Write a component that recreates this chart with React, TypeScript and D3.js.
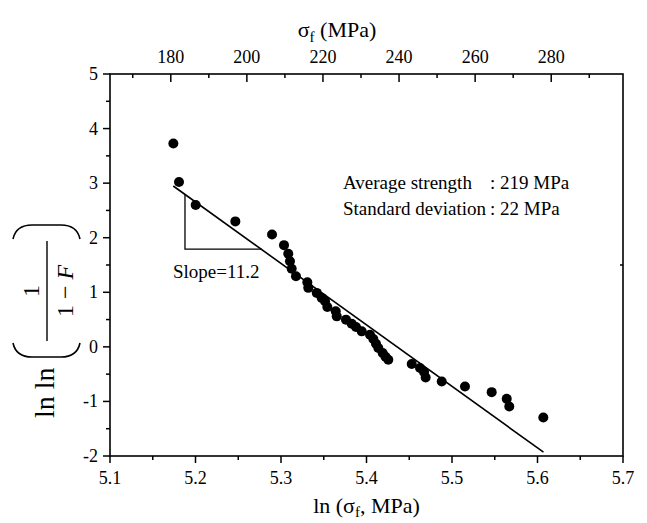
import React from 'react';
import * as d3 from 'd3';

const xTicks = [5.1, 5.2, 5.3, 5.4, 5.5, 5.6, 5.7];
const yTicks = [-2, -1, 0, 1, 2, 3, 4, 5];
const topTicks = [180, 200, 220, 240, 260, 280];

const lnSigma = [
  5.1741, 5.1807, 5.2002, 5.2466, 5.2895, 5.3035, 5.3085, 5.3105, 5.3125, 5.3175,
  5.3308, 5.3319, 5.3418, 5.3476, 5.3515, 5.3542, 5.364, 5.3652, 5.376, 5.3827,
  5.3877, 5.3944, 5.4041, 5.408, 5.4111, 5.4138, 5.4189, 5.4222, 5.4255, 5.4529,
  5.4626, 5.4673, 5.4692, 5.488, 5.5152, 5.5464, 5.564, 5.567, 5.6068,
];
const lnlnF = [
  3.727, 3.021, 2.599, 2.299, 2.06, 1.864, 1.706, 1.57, 1.43, 1.294,
  1.184, 1.081, 0.989, 0.897, 0.835, 0.732, 0.651, 0.559, 0.499, 0.425,
  0.365, 0.284, 0.223, 0.144, 0.058, -0.021, -0.113, -0.181, -0.236, -0.315,
  -0.389, -0.462, -0.561, -0.635, -0.727, -0.83, -0.953, -1.094, -1.296,
];

const fitX = [5.174, 5.607];
const fitY = [2.948, -1.93];
const slopeX = [5.1877, 5.2774];
const slopeBaseY = 1.79;
const slopeLabel = 'Slope=11.2';
const statLabels = ['Average strength', 'Standard deviation'];
const statValues = [': 219 MPa', ': 22 MPa'];

const W = 647;
const H = 523;
const L = 110, R = 623, T = 74, B = 456;
const FONT = "'Liberation Serif', 'Times New Roman', serif";

export default function App() {
  const x = d3.scaleLinear().domain([5.1, 5.7]).range([L, R]);
  const y = d3.scaleLinear().domain([-2, 5]).range([B, T]);
  const xTop = d3.scaleLinear().domain([Math.exp(5.1), Math.exp(5.7)]).range([L, R]);

  const xMinor = d3.range(5.15, 5.7, 0.1);
  const yMinor = d3.range(-1.5, 5, 1);
  const topMinor = d3.range(170, 300, 20);

  const fitAt = (v: number) => fitY[0] + ((v - fitX[0]) * (fitY[1] - fitY[0])) / (fitX[1] - fitX[0]);
  const line = d3.line<[number, number]>().x(d => x(d[0])).y(d => y(d[1]));
  const tri: [number, number][] = [
    [slopeX[0], fitAt(slopeX[0])],
    [slopeX[0], slopeBaseY],
    [slopeX[1], slopeBaseY],
  ];

  return (
    <svg width={W} height={H} style={{ position: 'absolute', left: 0, top: 0, background: '#fff' }} fontFamily={FONT}>
      <rect x={0} y={0} width={W} height={H} fill="#fff" />
      {/* frame */}
      <rect x={L} y={T} width={R - L} height={B - T} fill="none" stroke="#000" strokeWidth={1.6} />
      {/* bottom axis */}
      {xTicks.map(t => (
        <g key={'xb' + t}>
          <line x1={x(t)} x2={x(t)} y1={B} y2={B + 7} stroke="#000" strokeWidth={1.5} />
          <text x={x(t)} y={B + 28} textAnchor="middle" fontSize={18}>{t.toFixed(1)}</text>
        </g>
      ))}
      {xMinor.map(t => (
        <line key={'xm' + t} x1={x(t)} x2={x(t)} y1={B} y2={B + 4} stroke="#000" strokeWidth={1.5} />
      ))}
      <text x={(L + R) / 2} y={513} textAnchor="middle" fontSize={22}>
        ln (σ<tspan fontSize={15} dy={4}>f</tspan><tspan dy={-4}>, MPa)</tspan>
      </text>
      {/* left axis */}
      {yTicks.map(t => (
        <g key={'yl' + t}>
          <line x1={L - 7} x2={L} y1={y(t)} y2={y(t)} stroke="#000" strokeWidth={1.5} />
          <text x={L - 12} y={y(t) + 6} textAnchor="end" fontSize={18}>{String(t)}</text>
        </g>
      ))}
      {yMinor.map(t => (
        <line key={'ym' + t} x1={L - 4} x2={L} y1={y(t)} y2={y(t)} stroke="#000" strokeWidth={1.5} />
      ))}
      {/* right axis small mark */}
      <line x1={R - 3} x2={R} y1={y(1.5)} y2={y(1.5)} stroke="#000" strokeWidth={1.5} />
      {/* top axis */}
      {topTicks.map(t => (
        <g key={'xt' + t}>
          <line x1={xTop(t)} x2={xTop(t)} y1={T} y2={T + 8} stroke="#000" strokeWidth={1.5} />
          <text x={xTop(t)} y={T - 11} textAnchor="middle" fontSize={18}>{String(t)}</text>
        </g>
      ))}
      {topMinor.map(t => (
        <line key={'tm' + t} x1={xTop(t)} x2={xTop(t)} y1={T} y2={T + 4} stroke="#000" strokeWidth={1.5} />
      ))}
      <text x={337} y={37} textAnchor="middle" fontSize={22}>
        σ<tspan fontSize={15} dy={5}>f</tspan><tspan dy={-5}> (MPa)</tspan>
      </text>
      {/* y title */}
      <g transform="translate(46,323) rotate(-90)">
        <text x={-95} y={8} fontSize={28}>ln ln</text>
        <path d="M -20 -33 Q -34 -30 -34 -14 L -34 15 Q -34 31 -20 34" fill="none" stroke="#000" strokeWidth={1.6} />
        <line x1={-18} x2={82} y1={1} y2={1} stroke="#000" strokeWidth={1.4} />
        <text x={32} y={-7} textAnchor="middle" fontSize={24}>1</text>
        <text x={32} y={27} textAnchor="middle" fontSize={24}>
          1 − <tspan fontStyle="italic">F</tspan>
        </text>
        <path d="M 84 -33 Q 98 -30 98 -14 L 98 15 Q 98 31 84 34" fill="none" stroke="#000" strokeWidth={1.6} />
      </g>
      {/* fit line */}
      <path d={line(fitX.map((v, i) => [v, fitY[i]]) as [number, number][]) || ''} fill="none" stroke="#000" strokeWidth={1.6} />
      {/* slope triangle */}
      <path d={line(tri) || ''} fill="none" stroke="#000" strokeWidth={1.3} />
      <text x={x(slopeX[0]) - 12} y={278} fontSize={19}>{slopeLabel}</text>
      {/* points */}
      {lnSigma.map((v, i) => (
        <circle key={'p' + i} cx={x(v)} cy={y(lnlnF[i])} r={5} fill="#000" />
      ))}
      {/* stats */}
      {statLabels.map((s, i) => (
        <g key={'s' + i}>
          <text x={343} y={189 + i * 26} fontSize={19}>{s}</text>
          <text x={490} y={189 + i * 26} fontSize={19}>{statValues[i]}</text>
        </g>
      ))}
    </svg>
  );
}
